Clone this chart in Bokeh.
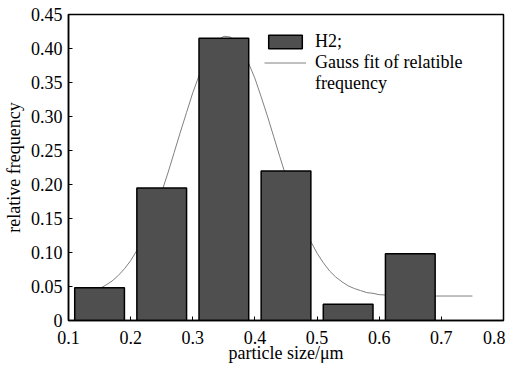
from bokeh.plotting import figure
from bokeh.models import FixedTicker, Legend, LegendItem, Range1d
from bokeh.embed import file_html
from bokeh.resources import INLINE

# data
bin_centers = [0.15, 0.25, 0.35, 0.45, 0.55, 0.65]
rel_freq = [0.048, 0.195, 0.415, 0.220, 0.024, 0.098]
bar_width = 0.08

fit_x = [0.15, 0.16, 0.17, 0.18, 0.19, 0.20, 0.21, 0.22, 0.23, 0.24, 0.25, 0.26, 0.27,
         0.28, 0.29, 0.30, 0.31, 0.32, 0.33, 0.34, 0.35, 0.36, 0.37, 0.38, 0.39, 0.40,
         0.41, 0.42, 0.43, 0.44, 0.45, 0.46, 0.47, 0.48, 0.49, 0.50, 0.51, 0.52, 0.53,
         0.54, 0.55, 0.56, 0.57, 0.58, 0.59, 0.60, 0.62, 0.64, 0.66, 0.70, 0.75]
fit_y = [0.047, 0.052, 0.058, 0.066, 0.076, 0.088, 0.103, 0.120, 0.141, 0.164, 0.189,
         0.217, 0.247, 0.277, 0.306, 0.335, 0.360, 0.383, 0.400, 0.412, 0.418, 0.417,
         0.410, 0.397, 0.378, 0.356, 0.329, 0.301, 0.271, 0.241, 0.212, 0.184, 0.159,
         0.136, 0.116, 0.099, 0.085, 0.073, 0.064, 0.057, 0.051, 0.047, 0.044, 0.041,
         0.040, 0.038, 0.037, 0.037, 0.036, 0.036, 0.036]

x_ticks = [0.1, 0.2, 0.3, 0.4, 0.5, 0.6, 0.7, 0.8]
x_labels = ["0.1", "0.2", "0.3", "0.4", "0.5", "0.6", "0.7", "0.8"]
y_ticks = [0, 0.05, 0.10, 0.15, 0.20, 0.25, 0.30, 0.35, 0.40, 0.45]
y_labels = ["0", "0.05", "0.10", "0.15", "0.20", "0.25", "0.30", "0.35", "0.40", "0.45"]

legend_labels = ["H2;", "Gauss fit of relatible", "frequency"]

FONT = "Liberation Serif"

p = figure(width=505, height=365, output_backend="svg", toolbar_location=None,
           x_range=Range1d(0.1, 0.8), y_range=Range1d(0, 0.45),
           min_border_left=68, min_border_right=2, min_border_top=14, min_border_bottom=45)
p.grid.visible = False
p.outline_line_color = "black"
p.outline_line_width = 1.5
p.background_fill_color = "white"

line_r = p.line(fit_x, fit_y, line_color="#808080", line_width=1)
bar_r = p.vbar(x=bin_centers, top=rel_freq, width=bar_width, bottom=0,
               fill_color="#4f4f4f", line_color="black", line_width=1.5)
blank_r = p.line(x=[], y=[], line_alpha=0)

for ax in (p.xaxis[0], p.yaxis[0]):
    ax.major_tick_in = 4
    ax.major_tick_out = 0
    ax.minor_tick_in = 0
    ax.minor_tick_out = 0
    ax.axis_line_width = 1.5
    ax.major_tick_line_width = 1
    ax.major_label_text_font = FONT
    ax.major_label_text_font_size = "18px"
    ax.major_label_text_color = "black"
    ax.axis_label_text_font = FONT
    ax.axis_label_text_font_size = "18px"
    ax.axis_label_text_font_style = "normal"
    ax.axis_label_text_color = "black"

p.xaxis[0].ticker = FixedTicker(ticks=x_ticks)
p.xaxis[0].major_label_overrides = dict(zip(x_ticks, x_labels))
p.xaxis[0].axis_label = "particle size/μm"
p.xaxis[0].axis_label_standoff = -4
p.xaxis[0].major_label_standoff = 10
p.yaxis[0].ticker = FixedTicker(ticks=y_ticks)
p.yaxis[0].major_label_overrides = dict(zip(y_ticks, y_labels))
p.yaxis[0].axis_label = "relative frequency"
p.yaxis[0].axis_label_standoff = 4
p.yaxis[0].major_label_standoff = 6

legend = Legend(items=[LegendItem(label=legend_labels[0], renderers=[bar_r]),
                       LegendItem(label=legend_labels[1], renderers=[line_r]),
                       LegendItem(label=legend_labels[2], renderers=[blank_r])],
                location=(196, 226), padding=0, margin=0, spacing=-1,
                glyph_width=42, glyph_height=17, label_standoff=9,
                border_line_alpha=0, background_fill_alpha=0,
                label_text_font=FONT, label_text_font_size="18px",
                label_text_color="black", label_height=18)
p.add_layout(legend)

open("out.html", "w").write(file_html(p, INLINE))
